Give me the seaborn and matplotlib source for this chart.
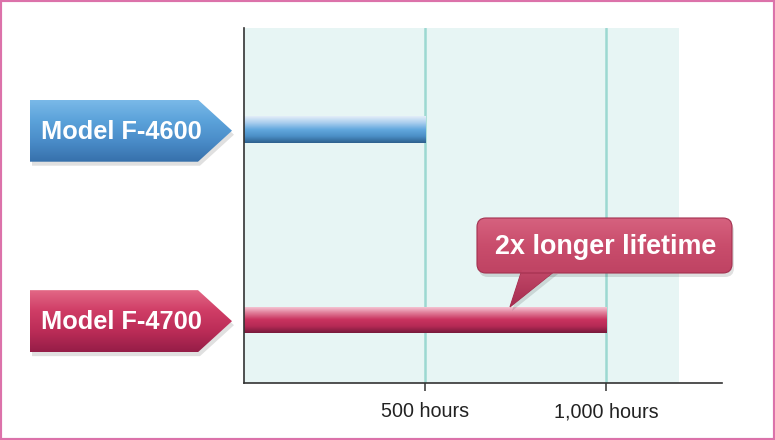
import numpy as np
import pandas as pd
import matplotlib
matplotlib.use("Agg")
import matplotlib.pyplot as plt
import seaborn as sns
from matplotlib.colors import LinearSegmentedColormap
from matplotlib.patches import Polygon, FancyBboxPatch, Rectangle

# data
models = ["Model F-4600", "Model F-4700"]
lifetime_hours = [500, 1000]
tick_values = [500, 1000]
tick_labels = ["500 hours", "1,000 hours"]
callout_text = "2x longer lifetime"

# colours (top -> bottom gradients)
bar_grads = [
    ["#e4eef8", "#a9cdee", "#62a8de", "#4b8fc6", "#2d5f8c"],
    ["#f8d0dc", "#e07c98", "#c9335f", "#b52a55", "#761a3b"],
]
label_grads = [
    ["#7ab9e8", "#5ba2da", "#4a8cc8", "#3670ab"],
    ["#e36886", "#cf3d66", "#bb2c57", "#951d47"],
]
callout_grad = ["#d6627f", "#c94d6c", "#bf4363"]

sns.set_style("white")
plt.rcParams["font.family"] = ["Liberation Sans", "DejaVu Sans"]

W, H = 775, 440
fig = plt.figure(figsize=(W / 100, H / 100), dpi=100)
ax = fig.add_axes([244 / W, 1 - 383 / H, (722 - 244) / W, (383 - 28) / H])

df = pd.DataFrame({"model": models, "hours": lifetime_hours})
sns.barplot(data=df, x="hours", y="model", orient="h", width=0.139,
            color="#5fa5dc", ax=ax, zorder=3)


def grad_fill(axis, patch, colors, extent, z):
    cmap = LinearSegmentedColormap.from_list("g", colors)
    g = np.linspace(0, 1, 256).reshape(-1, 1)
    im = axis.imshow(g, cmap=cmap, extent=extent, aspect="auto",
                     origin="upper", zorder=z, interpolation="bilinear")
    im.set_clip_path(patch)
    return im


for p, cols in zip(ax.patches, bar_grads):
    x0, y0, w, h = p.get_x(), p.get_y(), p.get_width(), p.get_height()
    p.set_edgecolor("none")
    grad_fill(ax, p, cols, (x0, x0 + w, y0 + h, y0), 4)

# background band and grid
ax.axvspan(0, 1200, color="#e7f5f4", zorder=0, lw=0)
for v in tick_values:
    ax.axvline(v, color="#9cd8d1", lw=1.8, zorder=1)

ax.set_xlim(0, 1320)
ax.set_ylim(1.33, -0.534)
ax.set_xticks(tick_values)
ax.set_xticklabels(tick_labels, fontsize=14.2, color="#222222")
ax.set_yticks([])
ax.set_xlabel("")
ax.set_ylabel("")
ax.tick_params(axis="x", direction="out", length=6, width=1.1,
               color="#333333", pad=8, bottom=True)
sns.despine(ax=ax)
for s in ["left", "bottom"]:
    ax.spines[s].set_color("#333333")
    ax.spines[s].set_linewidth(1.2)
    ax.spines[s].set_zorder(6)

# overlay in pixel coordinates for label arrows and callout
ov = fig.add_axes([0, 0, 1, 1], zorder=5)
ov.set_xlim(0, W)
ov.set_ylim(H, 0)
ov.axis("off")


def cat_y(i):
    return H - ax.transData.transform((0, i))[1]


for i, (name, cols) in enumerate(zip(models, label_grads)):
    cy = cat_y(i) + 1
    pts = [(30, cy - 31), (198, cy - 31), (232, cy), (198, cy + 31), (30, cy + 31)]
    shadow = Polygon([(x + 2, y + 4) for x, y in pts], closed=True,
                     facecolor="black", alpha=0.12, lw=0)
    ov.add_patch(shadow)
    poly = Polygon(pts, closed=True, facecolor="none", lw=0)
    ov.add_patch(poly)
    grad_fill(ov, poly, cols, (30, 232, cy + 31, cy - 31), 2)
    ov.text(121, cy + 1, name, color="white", fontsize=18.3, fontweight="bold",
            ha="center", va="center", zorder=3)

# callout pointing at the second bar
bar_top = H - ax.transData.transform((0, 1 - 0.0695))[1]
bx0, by0, bw, bh = 477, 218, 255, 55
tail = [(522, by0 + bh - 3), (556, by0 + bh - 3), (510, bar_top)]
ov.add_patch(Polygon([(x + 2, y + 4) for x, y in tail], closed=True,
                     facecolor="black", alpha=0.12, lw=0))
ov.add_patch(FancyBboxPatch((bx0 + 2, by0 + 4), bw, bh,
                            boxstyle="round,pad=0,rounding_size=9",
                            facecolor="black", alpha=0.12, lw=0))
tail_p = Polygon(tail, closed=True, facecolor="#b63a5b", edgecolor="#a3304f", lw=0.8)
ov.add_patch(tail_p)
box = FancyBboxPatch((bx0, by0), bw, bh, boxstyle="round,pad=0,rounding_size=9",
                     facecolor="none", edgecolor="#a3304f", lw=0.8, zorder=2.5)
ov.add_patch(box)
grad_fill(ov, box, callout_grad, (bx0, bx0 + bw, by0 + bh, by0), 2)
grad_fill(ov, tail_p, ["#c24868", "#a52d50"], (505, 560, bar_top, by0 + bh - 3), 2)
ov.text(bx0 + bw / 2 + 1, by0 + bh / 2 + 1, callout_text, color="white",
        fontsize=19.4, fontweight="bold", ha="center", va="center", zorder=3)

# pink frame
fig.add_artist(Rectangle((0, 0), 1, 1, transform=fig.transFigure, fill=False,
                         edgecolor="#dc72aa", lw=3))

fig.savefig("out.png", dpi=100)
